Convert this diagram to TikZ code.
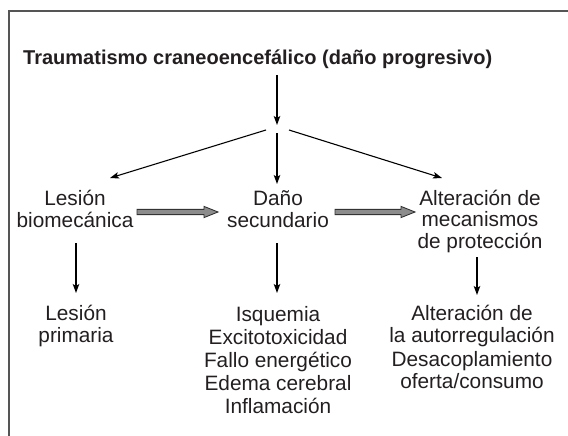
\documentclass[tikz,border=0pt]{standalone}
\usepackage{fontspec}
\setmainfont{Liberation Sans}
\usetikzlibrary{arrows.meta,calc}
\definecolor{ink}{HTML}{231F20}
\definecolor{framec}{HTML}{555555}
\definecolor{fatfill}{HTML}{8C8C8C}
\definecolor{fatline}{HTML}{333333}
\begin{document}
\begin{tikzpicture}[x=1pt,y=-1pt,
  txt/.style={inner sep=0pt, align=center, text=ink, font=\fontsize{20.8}{21.5}\selectfont, anchor=base},
  txtb/.style={txt, font=\fontsize{20.8}{23}\selectfont},
  conn/.style={line width=1.1pt, draw=black, -{Stealth[length=9pt,width=6.5pt,inset=2pt]}},
  fat/.style={draw=fatline, fill=fatfill, line width=0.9pt, line join=miter},
  frameline/.style={draw=framec, line width=1.6pt}]
\useasboundingbox (0,0) rectangle (568,436);
% frame
\coordinate (fb) at (9,436);
\coordinate (fc) at (9,11);
\coordinate (fr) at (568,11);
\draw[frameline] (fb) -- (fc) -- (fr);
% title
\node[anchor=base west, inner sep=0pt, text=ink, font=\bfseries\fontsize{20}{24}\selectfont] (title) at (23,65) {Traumatismo craneoencefálico (daño progresivo)};
% junction
\coordinate (t0) at (277,75);
\coordinate (j) at (277,125);
\coordinate (jl) at (266,130);
\coordinate (jm) at (277,133);
\coordinate (jr) at (289,130);
\draw[conn] (t0) -- (j);
% middle row (anchor = baseline of last line)
\node[txt] (lb) at (75,227) {Lesión\\biomecánica};
\node[txt] (ds) at (278,227) {Daño\\secundario};
\node[txt] (am) at (480,248) {Alteración de\\mecanismos\\de protección};
\coordinate (lbt) at (110,178);
\coordinate (dst) at (277,184);
\coordinate (amt) at (442,178);
\draw[conn] (jl) -- (lbt);
\draw[conn] (jm) -- (dst);
\draw[conn] (jr) -- (amt);
% fat arrows
\coordinate (f1s) at (137,212);
\coordinate (f1e) at (218,212);
\coordinate (f2s) at (335,212);
\coordinate (f2e) at (415,212);
\draw[fat] ($(f1s)+(0,-2.6)$) -- ($(f1e)+(-14,-2.6)$) -- ($(f1e)+(-14,-5.6)$) -- (f1e) -- ($(f1e)+(-14,5.6)$) -- ($(f1e)+(-14,2.6)$) -- ($(f1s)+(0,2.6)$) -- cycle;
\draw[fat] ($(f2s)+(0,-2.6)$) -- ($(f2e)+(-14,-2.6)$) -- ($(f2e)+(-14,-5.6)$) -- (f2e) -- ($(f2e)+(-14,5.6)$) -- ($(f2e)+(-14,2.6)$) -- ($(f2s)+(0,2.6)$) -- cycle;
% lower arrows
\coordinate (la0) at (76,243);
\coordinate (la1) at (76,293);
\coordinate (ma0) at (277,243);
\coordinate (ma1) at (277,293);
\coordinate (ra0) at (477,257);
\coordinate (ra1) at (477,295);
\draw[conn] (la0) -- (la1);
\draw[conn] (ma0) -- (ma1);
\draw[conn] (ra0) -- (ra1);
% lower row
\node[txt] (lp) at (76,342) {Lesión\\primaria};
\node[txtb] (ls) at (278,413) {Isquemia\\Excitotoxicidad\\Fallo energético\\Edema cerebral\\Inflamación};
\node[txt] (ar) at (472,342) {Alteración de\\la autorregulación};
\node[txt] (dc) at (472,388) {Desacoplamiento\\oferta/consumo};
\end{tikzpicture}
\end{document}
